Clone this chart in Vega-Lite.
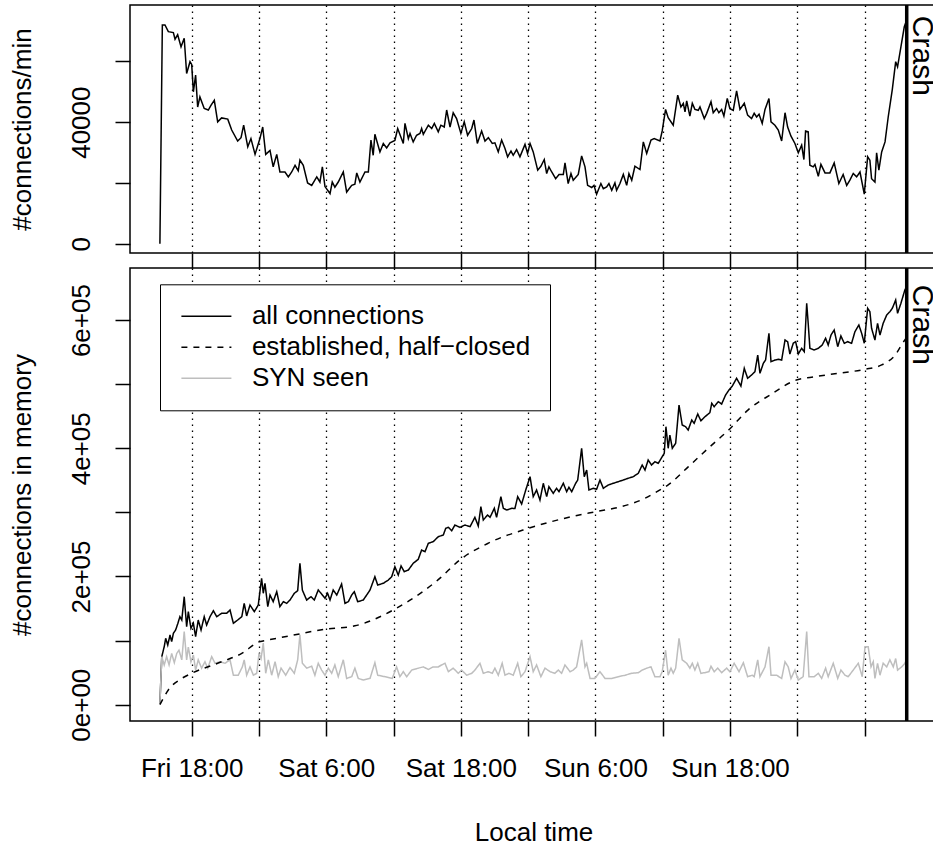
{
  "$schema": "https://vega.github.io/schema/vega-lite/v6.json",
  "autosize": {"type": "none"},
  "padding": {"left": 130, "top": 5, "right": 803, "bottom": 840},
  "background": "white",
  "spacing": 15,
  "bounds": "flush",
  "config": {
    "font": "Liberation Sans",
    "view": {"stroke": "black", "strokeWidth": 1.5},
    "axis": {
      "domain": false, "tickColor": "black", "tickWidth": 1.5, "tickSize": 15,
      "labelFont": "Liberation Sans", "labelFontSize": 26, "labelColor": "black",
      "labelOverlap": false, "labelFlush": false,
      "titleFont": "Liberation Sans", "titleFontSize": 26, "titleFontWeight": "normal", "titleColor": "black",
      "gridColor": "black", "gridWidth": 1.3, "gridDash": [1.5, 4.5], "gridOpacity": 1
    },
    "axisX": {"grid": true},
    "axisY": {
      "grid": false, "labelAngle": 270, "labelAlign": "center", "labelBaseline": "alphabetic", "labelPadding": 26,
      "titleAngle": 270, "titleAlign": "center", "titleBaseline": "alphabetic", "titleX": -99.5
    },
    "legend": {
      "orient": "none", "legendX": 30, "legendY": 279.3,
      "strokeColor": "black", "fillColor": "white", "padding": 19,
      "symbolType": "stroke", "symbolSize": 2500, "symbolStrokeWidth": 1.5, "symbolOffset": 1.4,
      "clipHeight": 26,
      "labelFont": "Liberation Sans", "labelFontSize": 26, "labelColor": "black",
      "labelOffset": 19.5, "labelLimit": 600, "rowPadding": 5
    }
  },
  "datasets": {
    "rate": [
      {"t":"2010-01-01T15:10","v":0},{"t":"2010-01-01T15:23","v":72000},{"t":"2010-01-01T15:37","v":72000},{"t":"2010-01-01T15:55","v":69800},
      {"t":"2010-01-01T16:22","v":69500},{"t":"2010-01-01T16:31","v":67300},{"t":"2010-01-01T16:45","v":68800},{"t":"2010-01-01T17:03","v":64800},
      {"t":"2010-01-01T17:20","v":67600},{"t":"2010-01-01T17:33","v":56000},{"t":"2010-01-01T17:51","v":59900},{"t":"2010-01-01T18:00","v":59000},
      {"t":"2010-01-01T18:09","v":50000},{"t":"2010-01-01T18:21","v":55500},{"t":"2010-01-01T18:32","v":45000},{"t":"2010-01-01T18:44","v":48300},
      {"t":"2010-01-01T19:07","v":44500},{"t":"2010-01-01T19:29","v":44000},{"t":"2010-01-01T19:43","v":45500},{"t":"2010-01-01T20:01","v":47200},
      {"t":"2010-01-01T20:19","v":40100},{"t":"2010-01-01T20:40","v":41400},{"t":"2010-01-01T21:13","v":41000},{"t":"2010-01-01T21:34","v":37400},
      {"t":"2010-01-01T22:06","v":33800},{"t":"2010-01-01T22:24","v":34900},{"t":"2010-01-01T22:38","v":39000},{"t":"2010-01-01T23:00","v":31900},
      {"t":"2010-01-01T23:17","v":34600},{"t":"2010-01-01T23:39","v":29400},{"t":"2010-01-02T00:05","v":34600},{"t":"2010-01-02T00:20","v":38400},
      {"t":"2010-01-02T00:36","v":29400},{"t":"2010-01-02T00:59","v":30700},{"t":"2010-01-02T01:16","v":25300},{"t":"2010-01-02T01:35","v":29400},
      {"t":"2010-01-02T01:52","v":23600},{"t":"2010-01-02T02:19","v":23600},{"t":"2010-01-02T02:37","v":22000},{"t":"2010-01-02T02:55","v":23600},
      {"t":"2010-01-02T03:13","v":25800},{"t":"2010-01-02T03:30","v":24000},{"t":"2010-01-02T03:39","v":27500},{"t":"2010-01-02T03:57","v":25800},
      {"t":"2010-01-02T04:20","v":20000},{"t":"2010-01-02T04:42","v":19200},{"t":"2010-01-02T05:09","v":22000},{"t":"2010-01-02T05:26","v":20300},
      {"t":"2010-01-02T05:39","v":25300},{"t":"2010-01-02T05:53","v":18800},{"t":"2010-01-02T06:20","v":16500},{"t":"2010-01-02T06:32","v":20300},
      {"t":"2010-01-02T06:46","v":18600},{"t":"2010-01-02T07:04","v":20300},{"t":"2010-01-02T07:31","v":23600},{"t":"2010-01-02T07:49","v":17000},
      {"t":"2010-01-02T08:16","v":19200},{"t":"2010-01-02T08:33","v":19600},{"t":"2010-01-02T08:43","v":23300},{"t":"2010-01-02T09:00","v":20300},
      {"t":"2010-01-02T09:27","v":23600},{"t":"2010-01-02T09:45","v":23600},{"t":"2010-01-02T09:59","v":34100},{"t":"2010-01-02T10:11","v":29100},
      {"t":"2010-01-02T10:20","v":36000},{"t":"2010-01-02T10:47","v":30200},{"t":"2010-01-02T11:05","v":33000},{"t":"2010-01-02T11:23","v":31500},
      {"t":"2010-01-02T11:41","v":33200},{"t":"2010-01-02T12:07","v":34000},{"t":"2010-01-02T12:22","v":37900},{"t":"2010-01-02T12:52","v":33000},
      {"t":"2010-01-02T13:01","v":39600},{"t":"2010-01-02T13:19","v":34600},{"t":"2010-01-02T13:28","v":36300},{"t":"2010-01-02T13:45","v":33500},
      {"t":"2010-01-02T14:03","v":35700},{"t":"2010-01-02T14:21","v":36300},{"t":"2010-01-02T14:30","v":37900},{"t":"2010-01-02T14:39","v":36000},
      {"t":"2010-01-02T15:06","v":39000},{"t":"2010-01-02T15:24","v":37900},{"t":"2010-01-02T15:38","v":39600},{"t":"2010-01-02T15:59","v":36800},
      {"t":"2010-01-02T16:13","v":39000},{"t":"2010-01-02T16:31","v":38400},{"t":"2010-01-02T16:44","v":44000},{"t":"2010-01-02T17:02","v":38400},
      {"t":"2010-01-02T17:19","v":43100},{"t":"2010-01-02T17:37","v":41200},{"t":"2010-01-02T18:00","v":36300},{"t":"2010-01-02T18:18","v":40100},
      {"t":"2010-01-02T18:36","v":35700},{"t":"2010-01-02T18:58","v":37900},{"t":"2010-01-02T19:10","v":40700},{"t":"2010-01-02T19:28","v":33000},
      {"t":"2010-01-02T19:51","v":37100},{"t":"2010-01-02T20:09","v":33800},{"t":"2010-01-02T20:27","v":34900},{"t":"2010-01-02T20:48","v":33000},
      {"t":"2010-01-02T21:02","v":33200},{"t":"2010-01-02T21:20","v":30200},{"t":"2010-01-02T21:38","v":34100},{"t":"2010-01-02T21:56","v":31300},
      {"t":"2010-01-02T22:10","v":28600},{"t":"2010-01-02T22:28","v":30500},{"t":"2010-01-02T22:40","v":29100},{"t":"2010-01-02T22:58","v":31000},
      {"t":"2010-01-02T23:16","v":28600},{"t":"2010-01-02T23:43","v":32700},{"t":"2010-01-02T23:57","v":29700},{"t":"2010-01-03T00:10","v":33000},
      {"t":"2010-01-03T00:27","v":30200},{"t":"2010-01-03T00:51","v":24200},{"t":"2010-01-03T01:08","v":25500},{"t":"2010-01-03T01:26","v":27700},
      {"t":"2010-01-03T01:39","v":23100},{"t":"2010-01-03T01:51","v":25300},{"t":"2010-01-03T02:06","v":23600},{"t":"2010-01-03T02:27","v":21400},
      {"t":"2010-01-03T02:45","v":22800},{"t":"2010-01-03T03:08","v":22800},{"t":"2010-01-03T03:17","v":26600},{"t":"2010-01-03T03:34","v":19800},
      {"t":"2010-01-03T03:49","v":23100},{"t":"2010-01-03T04:01","v":20900},{"t":"2010-01-03T04:28","v":22800},{"t":"2010-01-03T04:46","v":28900},
      {"t":"2010-01-03T05:04","v":25300},{"t":"2010-01-03T05:18","v":19200},{"t":"2010-01-03T05:40","v":18500},{"t":"2010-01-03T05:52","v":19200},
      {"t":"2010-01-03T06:06","v":16300},{"t":"2010-01-03T06:29","v":19800},{"t":"2010-01-03T06:42","v":18100},{"t":"2010-01-03T07:00","v":18700},
      {"t":"2010-01-03T07:12","v":19800},{"t":"2010-01-03T07:27","v":17600},{"t":"2010-01-03T07:44","v":20000},{"t":"2010-01-03T07:53","v":17600},
      {"t":"2010-01-03T08:11","v":19800},{"t":"2010-01-03T08:29","v":22800},{"t":"2010-01-03T08:47","v":19200},{"t":"2010-01-03T08:59","v":23100},
      {"t":"2010-01-03T09:14","v":20900},{"t":"2010-01-03T09:31","v":25500},{"t":"2010-01-03T09:58","v":24400},{"t":"2010-01-03T10:16","v":33500},
      {"t":"2010-01-03T10:34","v":29700},{"t":"2010-01-03T10:57","v":34100},{"t":"2010-01-03T11:14","v":34600},{"t":"2010-01-03T11:45","v":33800},
      {"t":"2010-01-03T11:57","v":37100},{"t":"2010-01-03T12:15","v":44200},{"t":"2010-01-03T12:29","v":41500},{"t":"2010-01-03T12:56","v":39000},
      {"t":"2010-01-03T13:20","v":48900},{"t":"2010-01-03T13:37","v":45000},{"t":"2010-01-03T13:50","v":46200},{"t":"2010-01-03T13:59","v":43400},
      {"t":"2010-01-03T14:08","v":47000},{"t":"2010-01-03T14:25","v":42000},{"t":"2010-01-03T14:38","v":46200},{"t":"2010-01-03T14:52","v":44200},
      {"t":"2010-01-03T15:10","v":43900},{"t":"2010-01-03T15:19","v":45000},{"t":"2010-01-03T15:42","v":41200},{"t":"2010-01-03T15:55","v":42900},
      {"t":"2010-01-03T16:18","v":46700},{"t":"2010-01-03T16:30","v":43100},{"t":"2010-01-03T16:48","v":44500},{"t":"2010-01-03T17:00","v":43100},
      {"t":"2010-01-03T17:15","v":44200},{"t":"2010-01-03T17:27","v":42000},{"t":"2010-01-03T17:45","v":47800},{"t":"2010-01-03T17:59","v":44400},
      {"t":"2010-01-03T18:17","v":43900},{"t":"2010-01-03T18:35","v":50300},{"t":"2010-01-03T18:53","v":44200},{"t":"2010-01-03T19:16","v":46200},
      {"t":"2010-01-03T19:34","v":42300},{"t":"2010-01-03T19:55","v":41200},{"t":"2010-01-03T20:09","v":42900},{"t":"2010-01-03T20:22","v":41700},
      {"t":"2010-01-03T20:35","v":42600},{"t":"2010-01-03T20:52","v":39600},{"t":"2010-01-03T21:07","v":44200},{"t":"2010-01-03T21:28","v":47800},
      {"t":"2010-01-03T21:39","v":40100},{"t":"2010-01-03T22:00","v":39000},{"t":"2010-01-03T22:18","v":37400},{"t":"2010-01-03T22:36","v":33800},
      {"t":"2010-01-03T22:54","v":43100},{"t":"2010-01-03T23:08","v":38400},{"t":"2010-01-03T23:26","v":35400},{"t":"2010-01-03T23:47","v":33000},
      {"t":"2010-01-04T00:05","v":29900},{"t":"2010-01-04T00:23","v":32400},{"t":"2010-01-04T00:35","v":27700},{"t":"2010-01-04T00:44","v":37100},
      {"t":"2010-01-04T00:58","v":36800},{"t":"2010-01-04T01:07","v":25800},{"t":"2010-01-04T01:25","v":25300},{"t":"2010-01-04T01:34","v":26100},
      {"t":"2010-01-04T01:52","v":22200},{"t":"2010-01-04T02:06","v":26100},{"t":"2010-01-04T02:28","v":23300},{"t":"2010-01-04T02:54","v":23300},
      {"t":"2010-01-04T03:17","v":26600},{"t":"2010-01-04T03:42","v":19800},{"t":"2010-01-04T04:05","v":22800},{"t":"2010-01-04T04:24","v":19200},
      {"t":"2010-01-04T04:41","v":20900},{"t":"2010-01-04T04:59","v":23100},{"t":"2010-01-04T05:17","v":22000},{"t":"2010-01-04T05:35","v":23600},
      {"t":"2010-01-04T05:58","v":16300},{"t":"2010-01-04T06:16","v":28600},{"t":"2010-01-04T06:28","v":27500},{"t":"2010-01-04T06:37","v":21400},
      {"t":"2010-01-04T06:55","v":20300},{"t":"2010-01-04T07:04","v":29900},{"t":"2010-01-04T07:16","v":24200},{"t":"2010-01-04T07:31","v":30200},
      {"t":"2010-01-04T07:49","v":33500},{"t":"2010-01-04T08:06","v":41700},{"t":"2010-01-04T08:28","v":50800},{"t":"2010-01-04T08:46","v":59900},
      {"t":"2010-01-04T08:56","v":58200},{"t":"2010-01-04T09:14","v":64800},{"t":"2010-01-04T09:32","v":71400},{"t":"2010-01-04T09:44","v":73500}
    ],
    "conn": [
      {"s":"all connections","t":"2010-01-01T15:10","v":2000},{"s":"all connections","t":"2010-01-01T15:20","v":74900},{"s":"all connections","t":"2010-01-01T15:33","v":90500},
      {"s":"all connections","t":"2010-01-01T15:41","v":103600},{"s":"all connections","t":"2010-01-01T15:52","v":93100},{"s":"all connections","t":"2010-01-01T16:04","v":108700},
      {"s":"all connections","t":"2010-01-01T16:13","v":98300},{"s":"all connections","t":"2010-01-01T16:22","v":111400},{"s":"all connections","t":"2010-01-01T16:34","v":116500},
      {"s":"all connections","t":"2010-01-01T16:45","v":125900},{"s":"all connections","t":"2010-01-01T16:57","v":137300},{"s":"all connections","t":"2010-01-01T17:07","v":132100},
      {"s":"all connections","t":"2010-01-01T17:20","v":168500},{"s":"all connections","t":"2010-01-01T17:33","v":121700},{"s":"all connections","t":"2010-01-01T17:42","v":145100},
      {"s":"all connections","t":"2010-01-01T17:56","v":119200},{"s":"all connections","t":"2010-01-01T18:09","v":127000},{"s":"all connections","t":"2010-01-01T18:21","v":106100},
      {"s":"all connections","t":"2010-01-01T18:35","v":132100},{"s":"all connections","t":"2010-01-01T18:50","v":116500},{"s":"all connections","t":"2010-01-01T19:07","v":137300},
      {"s":"all connections","t":"2010-01-01T19:20","v":124300},{"s":"all connections","t":"2010-01-01T19:38","v":137300},{"s":"all connections","t":"2010-01-01T19:56","v":146600},
      {"s":"all connections","t":"2010-01-01T20:14","v":137300},{"s":"all connections","t":"2010-01-01T20:40","v":142600},{"s":"all connections","t":"2010-01-01T21:07","v":142600},
      {"s":"all connections","t":"2010-01-01T21:25","v":147700},{"s":"all connections","t":"2010-01-01T21:43","v":127000},{"s":"all connections","t":"2010-01-01T22:06","v":132100},
      {"s":"all connections","t":"2010-01-01T22:28","v":137300},{"s":"all connections","t":"2010-01-01T22:41","v":158200},{"s":"all connections","t":"2010-01-01T22:54","v":138400},
      {"s":"all connections","t":"2010-01-01T23:12","v":155500},{"s":"all connections","t":"2010-01-01T23:35","v":145100},{"s":"all connections","t":"2010-01-01T23:56","v":155500},
      {"s":"all connections","t":"2010-01-02T00:14","v":197200},{"s":"all connections","t":"2010-01-02T00:23","v":173800},{"s":"all connections","t":"2010-01-02T00:32","v":189400},
      {"s":"all connections","t":"2010-01-02T00:47","v":152900},{"s":"all connections","t":"2010-01-02T00:59","v":171100},{"s":"all connections","t":"2010-01-02T01:16","v":160700},
      {"s":"all connections","t":"2010-01-02T01:35","v":176300},{"s":"all connections","t":"2010-01-02T01:52","v":152900},{"s":"all connections","t":"2010-01-02T02:10","v":160700},
      {"s":"all connections","t":"2010-01-02T02:28","v":158200},{"s":"all connections","t":"2010-01-02T02:46","v":163300},{"s":"all connections","t":"2010-01-02T03:09","v":173800},
      {"s":"all connections","t":"2010-01-02T03:27","v":177800},{"s":"all connections","t":"2010-01-02T03:39","v":220600},{"s":"all connections","t":"2010-01-02T03:52","v":178900},
      {"s":"all connections","t":"2010-01-02T04:15","v":163300},{"s":"all connections","t":"2010-01-02T04:38","v":168500},{"s":"all connections","t":"2010-01-02T04:56","v":163300},
      {"s":"all connections","t":"2010-01-02T05:17","v":178900},{"s":"all connections","t":"2010-01-02T05:32","v":173800},{"s":"all connections","t":"2010-01-02T05:53","v":166000},
      {"s":"all connections","t":"2010-01-02T06:07","v":173800},{"s":"all connections","t":"2010-01-02T06:20","v":163300},{"s":"all connections","t":"2010-01-02T06:37","v":178900},
      {"s":"all connections","t":"2010-01-02T06:56","v":171100},{"s":"all connections","t":"2010-01-02T07:22","v":188300},{"s":"all connections","t":"2010-01-02T07:40","v":158200},
      {"s":"all connections","t":"2010-01-02T07:58","v":160700},{"s":"all connections","t":"2010-01-02T08:16","v":171100},{"s":"all connections","t":"2010-01-02T08:30","v":176300},
      {"s":"all connections","t":"2010-01-02T08:48","v":160700},{"s":"all connections","t":"2010-01-02T09:18","v":163300},{"s":"all connections","t":"2010-01-02T09:54","v":178900},
      {"s":"all connections","t":"2010-01-02T10:20","v":199700},{"s":"all connections","t":"2010-01-02T10:35","v":186700},{"s":"all connections","t":"2010-01-02T11:05","v":189400},
      {"s":"all connections","t":"2010-01-02T11:32","v":194500},{"s":"all connections","t":"2010-01-02T11:50","v":199700},{"s":"all connections","t":"2010-01-02T12:07","v":215300},
      {"s":"all connections","t":"2010-01-02T12:25","v":202300},{"s":"all connections","t":"2010-01-02T12:40","v":216400},{"s":"all connections","t":"2010-01-02T12:57","v":207500},
      {"s":"all connections","t":"2010-01-02T13:19","v":210100},{"s":"all connections","t":"2010-01-02T13:45","v":220600},{"s":"all connections","t":"2010-01-02T14:12","v":226800},
      {"s":"all connections","t":"2010-01-02T14:30","v":241300},{"s":"all connections","t":"2010-01-02T14:48","v":238700},{"s":"all connections","t":"2010-01-02T15:06","v":251800},
      {"s":"all connections","t":"2010-01-02T15:32","v":254300},{"s":"all connections","t":"2010-01-02T15:59","v":262100},{"s":"all connections","t":"2010-01-02T16:26","v":264700},
      {"s":"all connections","t":"2010-01-02T16:39","v":275200},{"s":"all connections","t":"2010-01-02T16:53","v":276700},{"s":"all connections","t":"2010-01-02T17:11","v":271400},
      {"s":"all connections","t":"2010-01-02T17:28","v":280300},{"s":"all connections","t":"2010-01-02T17:55","v":276700},{"s":"all connections","t":"2010-01-02T18:22","v":280300},
      {"s":"all connections","t":"2010-01-02T18:49","v":277700},{"s":"all connections","t":"2010-01-02T19:15","v":292300},{"s":"all connections","t":"2010-01-02T19:33","v":278800},
      {"s":"all connections","t":"2010-01-02T19:47","v":308900},{"s":"all connections","t":"2010-01-02T20:00","v":288100},{"s":"all connections","t":"2010-01-02T20:23","v":295900},
      {"s":"all connections","t":"2010-01-02T20:36","v":292300},{"s":"all connections","t":"2010-01-02T20:59","v":306400},{"s":"all connections","t":"2010-01-02T21:11","v":292300},
      {"s":"all connections","t":"2010-01-02T21:34","v":324500},{"s":"all connections","t":"2010-01-02T21:47","v":306400},{"s":"all connections","t":"2010-01-02T22:05","v":303700},
      {"s":"all connections","t":"2010-01-02T22:32","v":306400},{"s":"all connections","t":"2010-01-02T22:49","v":306000},{"s":"all connections","t":"2010-01-02T23:04","v":324500},
      {"s":"all connections","t":"2010-01-02T23:25","v":313100},{"s":"all connections","t":"2010-01-02T23:47","v":334900},{"s":"all connections","t":"2010-01-03T00:10","v":355700},
      {"s":"all connections","t":"2010-01-03T00:27","v":324500},{"s":"all connections","t":"2010-01-03T00:45","v":334900},{"s":"all connections","t":"2010-01-03T01:03","v":319300},
      {"s":"all connections","t":"2010-01-03T01:21","v":345400},{"s":"all connections","t":"2010-01-03T01:39","v":324500},{"s":"all connections","t":"2010-01-03T01:51","v":340100},
      {"s":"all connections","t":"2010-01-03T02:14","v":329800},{"s":"all connections","t":"2010-01-03T02:32","v":337600},{"s":"all connections","t":"2010-01-03T02:45","v":332300},
      {"s":"all connections","t":"2010-01-03T03:08","v":345400},{"s":"all connections","t":"2010-01-03T03:26","v":332300},{"s":"all connections","t":"2010-01-03T03:38","v":339100},
      {"s":"all connections","t":"2010-01-03T03:53","v":332300},{"s":"all connections","t":"2010-01-03T04:14","v":345400},{"s":"all connections","t":"2010-01-03T04:25","v":350500},
      {"s":"all connections","t":"2010-01-03T04:46","v":400000},{"s":"all connections","t":"2010-01-03T05:00","v":355700},{"s":"all connections","t":"2010-01-03T05:13","v":366100},
      {"s":"all connections","t":"2010-01-03T05:25","v":334900},{"s":"all connections","t":"2010-01-03T05:48","v":337600},{"s":"all connections","t":"2010-01-03T06:06","v":336000},
      {"s":"all connections","t":"2010-01-03T06:24","v":350500},{"s":"all connections","t":"2010-01-03T06:42","v":337600},{"s":"all connections","t":"2010-01-03T07:08","v":342700},
      {"s":"all connections","t":"2010-01-03T07:35","v":345400},{"s":"all connections","t":"2010-01-03T08:02","v":347900},{"s":"all connections","t":"2010-01-03T08:29","v":350500},
      {"s":"all connections","t":"2010-01-03T08:55","v":353200},{"s":"all connections","t":"2010-01-03T09:22","v":355700},{"s":"all connections","t":"2010-01-03T09:49","v":361000},
      {"s":"all connections","t":"2010-01-03T10:10","v":373900},{"s":"all connections","t":"2010-01-03T10:25","v":366100},{"s":"all connections","t":"2010-01-03T10:42","v":381700},
      {"s":"all connections","t":"2010-01-03T11:00","v":373900},{"s":"all connections","t":"2010-01-03T11:18","v":379100},{"s":"all connections","t":"2010-01-03T11:36","v":376600},
      {"s":"all connections","t":"2010-01-03T11:57","v":386900},{"s":"all connections","t":"2010-01-03T12:08","v":392200},{"s":"all connections","t":"2010-01-03T12:17","v":433700},
      {"s":"all connections","t":"2010-01-03T12:29","v":400000},{"s":"all connections","t":"2010-01-03T12:38","v":420700},{"s":"all connections","t":"2010-01-03T12:51","v":400000},
      {"s":"all connections","t":"2010-01-03T13:09","v":407800},{"s":"all connections","t":"2010-01-03T13:27","v":467500},{"s":"all connections","t":"2010-01-03T13:44","v":436300},
      {"s":"all connections","t":"2010-01-03T14:02","v":433700},{"s":"all connections","t":"2010-01-03T14:16","v":428500},{"s":"all connections","t":"2010-01-03T14:35","v":444100},
      {"s":"all connections","t":"2010-01-03T14:48","v":439000},{"s":"all connections","t":"2010-01-03T15:07","v":453500},{"s":"all connections","t":"2010-01-03T15:24","v":443000},
      {"s":"all connections","t":"2010-01-03T15:46","v":449300},{"s":"all connections","t":"2010-01-03T16:12","v":455500},{"s":"all connections","t":"2010-01-03T16:22","v":470200},
      {"s":"all connections","t":"2010-01-03T16:35","v":464900},{"s":"all connections","t":"2010-01-03T16:57","v":472700},{"s":"all connections","t":"2010-01-03T17:15","v":469100},
      {"s":"all connections","t":"2010-01-03T17:36","v":483100},{"s":"all connections","t":"2010-01-03T17:54","v":490900},{"s":"all connections","t":"2010-01-03T18:12","v":497200},
      {"s":"all connections","t":"2010-01-03T18:35","v":509200},{"s":"all connections","t":"2010-01-03T18:58","v":497200},{"s":"all connections","t":"2010-01-03T19:16","v":524800},
      {"s":"all connections","t":"2010-01-03T19:34","v":509200},{"s":"all connections","t":"2010-01-03T19:55","v":514300},{"s":"all connections","t":"2010-01-03T20:13","v":519500},
      {"s":"all connections","t":"2010-01-03T20:28","v":545500},{"s":"all connections","t":"2010-01-03T20:40","v":517000},{"s":"all connections","t":"2010-01-03T20:58","v":532600},
      {"s":"all connections","t":"2010-01-03T21:10","v":537700},{"s":"all connections","t":"2010-01-03T21:28","v":579400},{"s":"all connections","t":"2010-01-03T21:39","v":535100},
      {"s":"all connections","t":"2010-01-03T22:00","v":537700},{"s":"all connections","t":"2010-01-03T22:18","v":538800},{"s":"all connections","t":"2010-01-03T22:36","v":537700},
      {"s":"all connections","t":"2010-01-03T22:54","v":568900},{"s":"all connections","t":"2010-01-03T23:08","v":566300},{"s":"all connections","t":"2010-01-03T23:20","v":547100},
      {"s":"all connections","t":"2010-01-03T23:38","v":563800},{"s":"all connections","t":"2010-01-03T23:51","v":566300},{"s":"all connections","t":"2010-01-04T00:05","v":547100},
      {"s":"all connections","t":"2010-01-04T00:23","v":556000},{"s":"all connections","t":"2010-01-04T00:37","v":550700},{"s":"all connections","t":"2010-01-04T00:50","v":626200},
      {"s":"all connections","t":"2010-01-04T00:58","v":595000},{"s":"all connections","t":"2010-01-04T01:07","v":556000},{"s":"all connections","t":"2010-01-04T01:30","v":553300},
      {"s":"all connections","t":"2010-01-04T01:52","v":556000},{"s":"all connections","t":"2010-01-04T02:13","v":561100},{"s":"all connections","t":"2010-01-04T02:31","v":571600},
      {"s":"all connections","t":"2010-01-04T02:45","v":561100},{"s":"all connections","t":"2010-01-04T03:00","v":576700},{"s":"all connections","t":"2010-01-04T03:17","v":584500},
      {"s":"all connections","t":"2010-01-04T03:36","v":558500},{"s":"all connections","t":"2010-01-04T03:53","v":575200},{"s":"all connections","t":"2010-01-04T04:11","v":563800},
      {"s":"all connections","t":"2010-01-04T04:29","v":566300},{"s":"all connections","t":"2010-01-04T04:50","v":563800},{"s":"all connections","t":"2010-01-04T05:08","v":581900},
      {"s":"all connections","t":"2010-01-04T05:29","v":592300},{"s":"all connections","t":"2010-01-04T05:44","v":579400},{"s":"all connections","t":"2010-01-04T05:58","v":563800},
      {"s":"all connections","t":"2010-01-04T06:16","v":618400},{"s":"all connections","t":"2010-01-04T06:28","v":613100},{"s":"all connections","t":"2010-01-04T06:37","v":587200},
      {"s":"all connections","t":"2010-01-04T06:55","v":568900},{"s":"all connections","t":"2010-01-04T07:09","v":595000},{"s":"all connections","t":"2010-01-04T07:22","v":576700},
      {"s":"all connections","t":"2010-01-04T07:39","v":595000},{"s":"all connections","t":"2010-01-04T07:58","v":607900},{"s":"all connections","t":"2010-01-04T08:15","v":613100},
      {"s":"all connections","t":"2010-01-04T08:28","v":618400},{"s":"all connections","t":"2010-01-04T08:46","v":631300},{"s":"all connections","t":"2010-01-04T08:56","v":610600},
      {"s":"all connections","t":"2010-01-04T09:14","v":626200},{"s":"all connections","t":"2010-01-04T09:35","v":646900},{"s":"all connections","t":"2010-01-04T09:44","v":651600},
      {"s":"SYN seen","t":"2010-01-01T15:10","v":2000},{"s":"SYN seen","t":"2010-01-01T15:20","v":75000},{"s":"SYN seen","t":"2010-01-01T15:33","v":62000},
      {"s":"SYN seen","t":"2010-01-01T15:46","v":75000},{"s":"SYN seen","t":"2010-01-01T15:59","v":62000},{"s":"SYN seen","t":"2010-01-01T16:13","v":80000},
      {"s":"SYN seen","t":"2010-01-01T16:27","v":65500},{"s":"SYN seen","t":"2010-01-01T16:40","v":80000},{"s":"SYN seen","t":"2010-01-01T16:52","v":85000},
      {"s":"SYN seen","t":"2010-01-01T17:07","v":70000},{"s":"SYN seen","t":"2010-01-01T17:20","v":114000},{"s":"SYN seen","t":"2010-01-01T17:33","v":70000},
      {"s":"SYN seen","t":"2010-01-01T17:42","v":90000},{"s":"SYN seen","t":"2010-01-01T17:56","v":67000},{"s":"SYN seen","t":"2010-01-01T18:09","v":77500},
      {"s":"SYN seen","t":"2010-01-01T18:21","v":54000},{"s":"SYN seen","t":"2010-01-01T18:35","v":70000},{"s":"SYN seen","t":"2010-01-01T18:53","v":57000},
      {"s":"SYN seen","t":"2010-01-01T19:11","v":67000},{"s":"SYN seen","t":"2010-01-01T19:26","v":57000},{"s":"SYN seen","t":"2010-01-01T19:47","v":75000},
      {"s":"SYN seen","t":"2010-01-01T20:05","v":64600},{"s":"SYN seen","t":"2010-01-01T20:31","v":67000},{"s":"SYN seen","t":"2010-01-01T20:58","v":64600},
      {"s":"SYN seen","t":"2010-01-01T21:25","v":70000},{"s":"SYN seen","t":"2010-01-01T21:43","v":46000},{"s":"SYN seen","t":"2010-01-01T22:09","v":46000},
      {"s":"SYN seen","t":"2010-01-01T22:31","v":59000},{"s":"SYN seen","t":"2010-01-01T22:41","v":70000},{"s":"SYN seen","t":"2010-01-01T22:54","v":46000},
      {"s":"SYN seen","t":"2010-01-01T23:12","v":59000},{"s":"SYN seen","t":"2010-01-01T23:30","v":46000},{"s":"SYN seen","t":"2010-01-01T23:48","v":49000},
      {"s":"SYN seen","t":"2010-01-02T00:00","v":80000},{"s":"SYN seen","t":"2010-01-02T00:11","v":72000},{"s":"SYN seen","t":"2010-01-02T00:23","v":96000},
      {"s":"SYN seen","t":"2010-01-02T00:36","v":49000},{"s":"SYN seen","t":"2010-01-02T00:50","v":70000},{"s":"SYN seen","t":"2010-01-02T01:08","v":46000},
      {"s":"SYN seen","t":"2010-01-02T01:26","v":67000},{"s":"SYN seen","t":"2010-01-02T01:43","v":43700},{"s":"SYN seen","t":"2010-01-02T01:58","v":57000},
      {"s":"SYN seen","t":"2010-01-02T02:23","v":46000},{"s":"SYN seen","t":"2010-01-02T02:46","v":58000},{"s":"SYN seen","t":"2010-01-02T03:09","v":49000},
      {"s":"SYN seen","t":"2010-01-02T03:27","v":70000},{"s":"SYN seen","t":"2010-01-02T03:39","v":109000},{"s":"SYN seen","t":"2010-01-02T03:52","v":64600},
      {"s":"SYN seen","t":"2010-01-02T04:15","v":57000},{"s":"SYN seen","t":"2010-01-02T04:42","v":60000},{"s":"SYN seen","t":"2010-01-02T04:59","v":46000},
      {"s":"SYN seen","t":"2010-01-02T05:17","v":64600},{"s":"SYN seen","t":"2010-01-02T05:35","v":54000},{"s":"SYN seen","t":"2010-01-02T05:53","v":46000},
      {"s":"SYN seen","t":"2010-01-02T06:11","v":57000},{"s":"SYN seen","t":"2010-01-02T06:29","v":49000},{"s":"SYN seen","t":"2010-01-02T06:46","v":62000},
      {"s":"SYN seen","t":"2010-01-02T07:04","v":43700},{"s":"SYN seen","t":"2010-01-02T07:31","v":70000},{"s":"SYN seen","t":"2010-01-02T07:49","v":41000},
      {"s":"SYN seen","t":"2010-01-02T08:16","v":43700},{"s":"SYN seen","t":"2010-01-02T08:33","v":57000},{"s":"SYN seen","t":"2010-01-02T08:51","v":41000},
      {"s":"SYN seen","t":"2010-01-02T09:18","v":38500},{"s":"SYN seen","t":"2010-01-02T09:54","v":41000},{"s":"SYN seen","t":"2010-01-02T10:20","v":65500},
      {"s":"SYN seen","t":"2010-01-02T10:35","v":46000},{"s":"SYN seen","t":"2010-01-02T11:14","v":43700},{"s":"SYN seen","t":"2010-01-02T11:53","v":41000},
      {"s":"SYN seen","t":"2010-01-02T12:16","v":59000},{"s":"SYN seen","t":"2010-01-02T12:34","v":43700},{"s":"SYN seen","t":"2010-01-02T12:52","v":51500},
      {"s":"SYN seen","t":"2010-01-02T13:10","v":43700},{"s":"SYN seen","t":"2010-01-02T13:37","v":54000},{"s":"SYN seen","t":"2010-01-02T14:12","v":57000},
      {"s":"SYN seen","t":"2010-01-02T14:39","v":59000},{"s":"SYN seen","t":"2010-01-02T15:06","v":55000},{"s":"SYN seen","t":"2010-01-02T15:32","v":59000},
      {"s":"SYN seen","t":"2010-01-02T15:59","v":59000},{"s":"SYN seen","t":"2010-01-02T16:17","v":62000},{"s":"SYN seen","t":"2010-01-02T16:35","v":64600},
      {"s":"SYN seen","t":"2010-01-02T16:53","v":51500},{"s":"SYN seen","t":"2010-01-02T17:19","v":57000},{"s":"SYN seen","t":"2010-01-02T17:46","v":49000},
      {"s":"SYN seen","t":"2010-01-02T18:04","v":54000},{"s":"SYN seen","t":"2010-01-02T18:31","v":46000},{"s":"SYN seen","t":"2010-01-02T18:58","v":49000},
      {"s":"SYN seen","t":"2010-01-02T19:15","v":54000},{"s":"SYN seen","t":"2010-01-02T19:42","v":64600},{"s":"SYN seen","t":"2010-01-02T20:00","v":49000},
      {"s":"SYN seen","t":"2010-01-02T20:27","v":51500},{"s":"SYN seen","t":"2010-01-02T20:48","v":49000},{"s":"SYN seen","t":"2010-01-02T21:02","v":57000},
      {"s":"SYN seen","t":"2010-01-02T21:20","v":46000},{"s":"SYN seen","t":"2010-01-02T21:41","v":64600},{"s":"SYN seen","t":"2010-01-02T21:56","v":46000},
      {"s":"SYN seen","t":"2010-01-02T22:17","v":49000},{"s":"SYN seen","t":"2010-01-02T22:40","v":46000},{"s":"SYN seen","t":"2010-01-02T23:04","v":64600},
      {"s":"SYN seen","t":"2010-01-02T23:21","v":43700},{"s":"SYN seen","t":"2010-01-02T23:43","v":51500},{"s":"SYN seen","t":"2010-01-03T00:10","v":75000},
      {"s":"SYN seen","t":"2010-01-03T00:27","v":51500},{"s":"SYN seen","t":"2010-01-03T00:45","v":62000},{"s":"SYN seen","t":"2010-01-03T01:08","v":43700},
      {"s":"SYN seen","t":"2010-01-03T01:30","v":57000},{"s":"SYN seen","t":"2010-01-03T01:57","v":51500},{"s":"SYN seen","t":"2010-01-03T02:23","v":49000},
      {"s":"SYN seen","t":"2010-01-03T02:41","v":54000},{"s":"SYN seen","t":"2010-01-03T02:59","v":49000},{"s":"SYN seen","t":"2010-01-03T03:17","v":62000},
      {"s":"SYN seen","t":"2010-01-03T03:44","v":51500},{"s":"SYN seen","t":"2010-01-03T04:01","v":54000},{"s":"SYN seen","t":"2010-01-03T04:19","v":59000},
      {"s":"SYN seen","t":"2010-01-03T04:46","v":101000},{"s":"SYN seen","t":"2010-01-03T05:04","v":59000},{"s":"SYN seen","t":"2010-01-03T05:13","v":64600},
      {"s":"SYN seen","t":"2010-01-03T05:31","v":41000},{"s":"SYN seen","t":"2010-01-03T05:57","v":41000},{"s":"SYN seen","t":"2010-01-03T06:24","v":51500},
      {"s":"SYN seen","t":"2010-01-03T06:51","v":41000},{"s":"SYN seen","t":"2010-01-03T07:27","v":41000},{"s":"SYN seen","t":"2010-01-03T08:02","v":43700},
      {"s":"SYN seen","t":"2010-01-03T08:38","v":46000},{"s":"SYN seen","t":"2010-01-03T09:14","v":49000},{"s":"SYN seen","t":"2010-01-03T09:49","v":50000},
      {"s":"SYN seen","t":"2010-01-03T10:10","v":54000},{"s":"SYN seen","t":"2010-01-03T10:34","v":57000},{"s":"SYN seen","t":"2010-01-03T10:57","v":59000},
      {"s":"SYN seen","t":"2010-01-03T11:18","v":43700},{"s":"SYN seen","t":"2010-01-03T11:45","v":43700},{"s":"SYN seen","t":"2010-01-03T11:57","v":51500},
      {"s":"SYN seen","t":"2010-01-03T12:15","v":85000},{"s":"SYN seen","t":"2010-01-03T12:29","v":46000},{"s":"SYN seen","t":"2010-01-03T12:44","v":57000},
      {"s":"SYN seen","t":"2010-01-03T12:56","v":49000},{"s":"SYN seen","t":"2010-01-03T13:09","v":57000},{"s":"SYN seen","t":"2010-01-03T13:27","v":103600},
      {"s":"SYN seen","t":"2010-01-03T13:44","v":70000},{"s":"SYN seen","t":"2010-01-03T14:08","v":64600},{"s":"SYN seen","t":"2010-01-03T14:25","v":57000},
      {"s":"SYN seen","t":"2010-01-03T14:38","v":64600},{"s":"SYN seen","t":"2010-01-03T14:52","v":54000},{"s":"SYN seen","t":"2010-01-03T15:07","v":64600},
      {"s":"SYN seen","t":"2010-01-03T15:24","v":49000},{"s":"SYN seen","t":"2010-01-03T15:46","v":50000},{"s":"SYN seen","t":"2010-01-03T16:07","v":51500},
      {"s":"SYN seen","t":"2010-01-03T16:18","v":60000},{"s":"SYN seen","t":"2010-01-03T16:35","v":51500},{"s":"SYN seen","t":"2010-01-03T16:54","v":57000},
      {"s":"SYN seen","t":"2010-01-03T17:15","v":50000},{"s":"SYN seen","t":"2010-01-03T17:42","v":57000},{"s":"SYN seen","t":"2010-01-03T17:59","v":51500},
      {"s":"SYN seen","t":"2010-01-03T18:22","v":64600},{"s":"SYN seen","t":"2010-01-03T18:48","v":51500},{"s":"SYN seen","t":"2010-01-03T19:11","v":65500},
      {"s":"SYN seen","t":"2010-01-03T19:34","v":43700},{"s":"SYN seen","t":"2010-01-03T19:59","v":46000},{"s":"SYN seen","t":"2010-01-03T20:09","v":43700},
      {"s":"SYN seen","t":"2010-01-03T20:28","v":70000},{"s":"SYN seen","t":"2010-01-03T20:40","v":43700},{"s":"SYN seen","t":"2010-01-03T21:07","v":59000},
      {"s":"SYN seen","t":"2010-01-03T21:28","v":90500},{"s":"SYN seen","t":"2010-01-03T21:39","v":46000},{"s":"SYN seen","t":"2010-01-03T22:09","v":46000},
      {"s":"SYN seen","t":"2010-01-03T22:36","v":41000},{"s":"SYN seen","t":"2010-01-03T22:54","v":67000},{"s":"SYN seen","t":"2010-01-03T23:11","v":59000},
      {"s":"SYN seen","t":"2010-01-03T23:26","v":41000},{"s":"SYN seen","t":"2010-01-03T23:47","v":54000},{"s":"SYN seen","t":"2010-01-04T00:05","v":38500},
      {"s":"SYN seen","t":"2010-01-04T00:31","v":43700},{"s":"SYN seen","t":"2010-01-04T00:50","v":114000},{"s":"SYN seen","t":"2010-01-04T01:02","v":43700},
      {"s":"SYN seen","t":"2010-01-04T01:30","v":43700},{"s":"SYN seen","t":"2010-01-04T01:52","v":49000},{"s":"SYN seen","t":"2010-01-04T02:10","v":41000},
      {"s":"SYN seen","t":"2010-01-04T02:31","v":57000},{"s":"SYN seen","t":"2010-01-04T02:45","v":43700},{"s":"SYN seen","t":"2010-01-04T03:12","v":64600},
      {"s":"SYN seen","t":"2010-01-04T03:36","v":41000},{"s":"SYN seen","t":"2010-01-04T03:53","v":54000},{"s":"SYN seen","t":"2010-01-04T04:15","v":46000},
      {"s":"SYN seen","t":"2010-01-04T04:32","v":43700},{"s":"SYN seen","t":"2010-01-04T04:59","v":54000},{"s":"SYN seen","t":"2010-01-04T05:26","v":64600},
      {"s":"SYN seen","t":"2010-01-04T05:47","v":43700},{"s":"SYN seen","t":"2010-01-04T06:02","v":90500},{"s":"SYN seen","t":"2010-01-04T06:19","v":90500},
      {"s":"SYN seen","t":"2010-01-04T06:34","v":59000},{"s":"SYN seen","t":"2010-01-04T06:46","v":67000},{"s":"SYN seen","t":"2010-01-04T06:55","v":41000},
      {"s":"SYN seen","t":"2010-01-04T07:09","v":64600},{"s":"SYN seen","t":"2010-01-04T07:22","v":46000},{"s":"SYN seen","t":"2010-01-04T07:39","v":64600},
      {"s":"SYN seen","t":"2010-01-04T07:58","v":59000},{"s":"SYN seen","t":"2010-01-04T08:15","v":70000},{"s":"SYN seen","t":"2010-01-04T08:33","v":59000},
      {"s":"SYN seen","t":"2010-01-04T08:46","v":72000},{"s":"SYN seen","t":"2010-01-04T08:56","v":54000},{"s":"SYN seen","t":"2010-01-04T09:18","v":59000},
      {"s":"SYN seen","t":"2010-01-04T09:35","v":64600},{"s":"SYN seen","t":"2010-01-04T09:44","v":70000}
    ],
    "est": [
      {"s":"established, half−closed","t":"2010-01-01T15:10","v":0},{"s":"established, half−closed","t":"2010-01-01T15:55","v":23000},
      {"s":"established, half−closed","t":"2010-01-01T17:07","v":41000},{"s":"established, half−closed","t":"2010-01-01T18:00","v":49000},
      {"s":"established, half−closed","t":"2010-01-01T20:40","v":67000},{"s":"established, half−closed","t":"2010-01-01T22:28","v":80000},
      {"s":"established, half−closed","t":"2010-01-02T00:00","v":98000},{"s":"established, half−closed","t":"2010-01-02T00:32","v":100000},
      {"s":"established, half−closed","t":"2010-01-02T02:37","v":107000},{"s":"established, half−closed","t":"2010-01-02T06:00","v":118000},
      {"s":"established, half−closed","t":"2010-01-02T08:33","v":123000},{"s":"established, half−closed","t":"2010-01-02T12:00","v":148000},
      {"s":"established, half−closed","t":"2010-01-02T13:28","v":163000},{"s":"established, half−closed","t":"2010-01-02T15:59","v":195000},
      {"s":"established, half−closed","t":"2010-01-02T17:55","v":226000},{"s":"established, half−closed","t":"2010-01-02T20:27","v":252000},
      {"s":"established, half−closed","t":"2010-01-03T00:00","v":275000},{"s":"established, half−closed","t":"2010-01-03T03:17","v":291000},
      {"s":"established, half−closed","t":"2010-01-03T06:00","v":301000},{"s":"established, half−closed","t":"2010-01-03T08:20","v":309000},
      {"s":"established, half−closed","t":"2010-01-03T10:25","v":322000},{"s":"established, half−closed","t":"2010-01-03T11:45","v":335000},
      {"s":"established, half−closed","t":"2010-01-03T12:29","v":343000},{"s":"established, half−closed","t":"2010-01-03T14:16","v":371000},
      {"s":"established, half−closed","t":"2010-01-03T16:03","v":400000},{"s":"established, half−closed","t":"2010-01-03T17:54","v":429000},
      {"s":"established, half−closed","t":"2010-01-03T19:37","v":460000},{"s":"established, half−closed","t":"2010-01-03T21:33","v":483000},
      {"s":"established, half−closed","t":"2010-01-04T00:00","v":507000},{"s":"established, half−closed","t":"2010-01-04T01:16","v":511000},
      {"s":"established, half−closed","t":"2010-01-04T03:39","v":517000},{"s":"established, half−closed","t":"2010-01-04T05:58","v":523000},
      {"s":"established, half−closed","t":"2010-01-04T07:31","v":530000},{"s":"established, half−closed","t":"2010-01-04T08:42","v":545000},
      {"s":"established, half−closed","t":"2010-01-04T09:35","v":569000},{"s":"established, half−closed","t":"2010-01-04T09:44","v":572000}
    ],
    "crashTop": [{"t":"2010-01-04T09:45","v":75000,"label":"Crash"}],
    "crashBottom": [{"t":"2010-01-04T09:45","v":655000,"label":"Crash"}]
  },
  "vconcat": [
    {
      "width": 807,
      "height": 248,
      "encoding": {
        "x": {
          "field": "t", "type": "temporal",
          "scale": {"domain": [{"year": 2010, "month": 1, "date": 1, "hours": 12, "minutes": 30}, {"year": 2010, "month": 1, "date": 4, "hours": 12, "minutes": 27}], "nice": false},
          "axis": {
            "title": null, "labels": false,
            "values": [
              {"year": 2010, "month": 1, "date": 1, "hours": 18}, {"year": 2010, "month": 1, "date": 2, "hours": 0},
              {"year": 2010, "month": 1, "date": 2, "hours": 6}, {"year": 2010, "month": 1, "date": 2, "hours": 12},
              {"year": 2010, "month": 1, "date": 2, "hours": 18}, {"year": 2010, "month": 1, "date": 3, "hours": 0},
              {"year": 2010, "month": 1, "date": 3, "hours": 6}, {"year": 2010, "month": 1, "date": 3, "hours": 12},
              {"year": 2010, "month": 1, "date": 3, "hours": 18}, {"year": 2010, "month": 1, "date": 4, "hours": 0},
              {"year": 2010, "month": 1, "date": 4, "hours": 6}
            ]
          }
        }
      },
      "layer": [
        {
          "data": {"name": "rate"},
          "mark": {"type": "line", "color": "black", "strokeWidth": 1.5},
          "encoding": {
            "y": {
              "field": "v", "type": "quantitative",
              "scale": {"domain": [-3066, 78568], "nice": false, "zero": false},
              "axis": {
                "title": "#connections/min", "titleY": 124,
                "values": [0, 20000, 40000, 60000],
                "labelExpr": "datum.value == 0 || datum.value == 40000 ? format(datum.value, 'd') : ''"
              }
            }
          }
        },
        {
          "data": {"name": "crashTop"},
          "mark": {"type": "rule", "color": "black", "strokeWidth": 3.5},
          "encoding": {}
        },
        {
          "data": {"name": "crashTop"},
          "mark": {"type": "text", "angle": 90, "align": "left", "baseline": "alphabetic", "fontSize": 30, "dy": -6, "color": "black"},
          "encoding": {"y": {"field": "v", "type": "quantitative"}, "text": {"field": "label"}}
        }
      ]
    },
    {
      "width": 807,
      "height": 453,
      "encoding": {
        "x": {
          "field": "t", "type": "temporal",
          "scale": {"domain": [{"year": 2010, "month": 1, "date": 1, "hours": 12, "minutes": 30}, {"year": 2010, "month": 1, "date": 4, "hours": 12, "minutes": 27}], "nice": false},
          "axis": {
            "title": "Local time", "titleY": 119, "titleBaseline": "alphabetic",
            "labelBaseline": "alphabetic", "labelPadding": 40.7,
            "labelExpr": "(hours(datum.value) == 6 || hours(datum.value) == 18) && day(datum.value) != 1 ? timeFormat(datum.value, '%a %-H:%M') : ''",
            "values": [
              {"year": 2010, "month": 1, "date": 1, "hours": 18}, {"year": 2010, "month": 1, "date": 2, "hours": 0},
              {"year": 2010, "month": 1, "date": 2, "hours": 6}, {"year": 2010, "month": 1, "date": 2, "hours": 12},
              {"year": 2010, "month": 1, "date": 2, "hours": 18}, {"year": 2010, "month": 1, "date": 3, "hours": 0},
              {"year": 2010, "month": 1, "date": 3, "hours": 6}, {"year": 2010, "month": 1, "date": 3, "hours": 12},
              {"year": 2010, "month": 1, "date": 3, "hours": 18}, {"year": 2010, "month": 1, "date": 4, "hours": 0},
              {"year": 2010, "month": 1, "date": 4, "hours": 6}
            ]
          }
        },
        "y": {
          "field": "v", "type": "quantitative",
          "scale": {"domain": [-25428, 681252], "nice": false, "zero": false},
          "axis": {
            "title": "#connections in memory", "titleY": 226.5,
            "values": [0, 100000, 200000, 300000, 400000, 500000, 600000],
            "labelExpr": "datum.value == 0 ? '0e+00' : (datum.value % 200000 == 0 ? format(datum.value / 100000, 'd') + 'e+05' : '')"
          }
        }
      },
      "layer": [
        {
          "data": {"name": "conn"},
          "mark": {"type": "line", "strokeWidth": 1.5},
          "encoding": {
            "color": {
              "field": "s", "type": "nominal",
              "scale": {"domain": ["all connections", "established, half−closed", "SYN seen"], "range": ["black", "black", "#bebebe"]},
              "legend": {"title": null}
            },
            "strokeDash": {
              "field": "s", "type": "nominal",
              "scale": {"domain": ["all connections", "established, half−closed", "SYN seen"], "range": [[1, 0], [6, 6], [1, 0]]},
              "legend": {"title": null}
            }
          }
        },
        {
          "data": {"name": "est"},
          "mark": {"type": "line", "strokeWidth": 1.5, "interpolate": "monotone"},
          "encoding": {
            "color": {"field": "s", "type": "nominal", "legend": {"title": null}},
            "strokeDash": {"field": "s", "type": "nominal", "legend": {"title": null}}
          }
        },
        {
          "data": {"name": "crashBottom"},
          "mark": {"type": "rule", "color": "black", "strokeWidth": 3.5},
          "encoding": {"y": null}
        },
        {
          "data": {"name": "crashBottom"},
          "mark": {"type": "text", "angle": 90, "align": "left", "baseline": "alphabetic", "fontSize": 30, "dy": -6, "color": "black"},
          "encoding": {"text": {"field": "label"}}
        }
      ]
    }
  ]
}
